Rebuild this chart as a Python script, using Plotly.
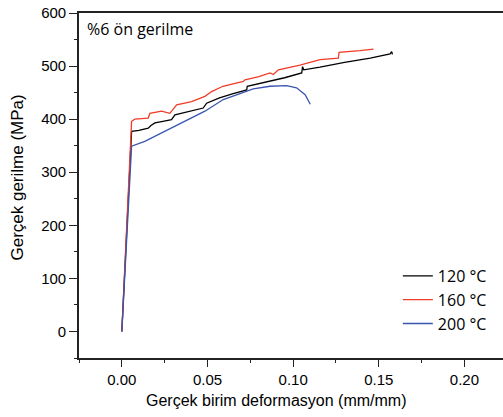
import plotly.graph_objects as go

# 120 °C
x120 = [0.0, 0.001, 0.0025, 0.004, 0.0052, 0.0057, 0.010, 0.0154, 0.017, 0.0193, 0.024, 0.029, 0.031, 0.038,
        0.0475, 0.0495, 0.057, 0.065, 0.0729, 0.0732, 0.085, 0.095, 0.105, 0.1055, 0.1062, 0.1157, 0.130,
        0.145, 0.1566, 0.1575, 0.158]
y120 = [0, 65, 170, 275, 345, 377, 379, 383, 388, 393, 396, 399, 408, 413,
        421, 430, 440, 448, 455, 462, 470, 478, 487, 499, 493, 498, 507,
        515, 523, 527, 522]

# 160 °C
x160 = [0.0, 0.001, 0.0025, 0.004, 0.0052, 0.0057, 0.0076, 0.0154, 0.0164, 0.0232, 0.028, 0.032, 0.0407,
        0.0485, 0.0524, 0.059, 0.0709, 0.0719, 0.080, 0.0865, 0.0884, 0.0914, 0.104, 0.1157, 0.1264,
        0.1268, 0.139, 0.1469]
y160 = [0, 68, 175, 280, 355, 396, 400, 402, 411, 415, 411, 427, 433,
        443, 452, 462, 471, 474, 480, 487, 484, 493, 502, 512, 515,
        526, 529, 532]

# 200 °C
x200 = [0.0, 0.001, 0.0025, 0.004, 0.0052, 0.0057, 0.0134, 0.0251, 0.0388, 0.0485, 0.0592, 0.0767,
        0.0865, 0.0962, 0.102, 0.107, 0.110]
y200 = [0, 62, 168, 270, 330, 349, 358, 377, 399, 415, 437, 457,
        462, 463, 459, 446, 428]

series = [("120 °C", x120, y120, "black"),
          ("160 °C", x160, y160, "#f03c28"),
          ("200 °C", x200, y200, "#3a55b0")]

fig = go.Figure()
for name, xs, ys, col in series:
    fig.add_trace(go.Scatter(x=xs, y=ys, mode="lines", name=name,
                             line=dict(color=col, width=1.3)))

fig.add_annotation(x=0, y=1, xref="paper", yref="paper", xanchor="left", yanchor="middle",
                   xshift=6, yshift=-16, text="%6 ön gerilme", showarrow=False,
                   font=dict(family="Open Sans", size=16, color="black"))

title_font = dict(family="Liberation Sans", size=16, color="black")
fig.add_annotation(x=-0.1439, y=0.523, xref="paper", yref="paper", xanchor="center", yanchor="middle",
                   text="Gerçek gerilme (MPa)", textangle=-90, showarrow=False,
                   font=dict(family="Liberation Sans", size=17, color="black"))
fig.add_annotation(x=0.4646, y=-0.1246, xref="paper", yref="paper", xanchor="center", yanchor="middle",
                   text="Gerçek birim deformasyon (mm/mm)", showarrow=False, font=title_font)

axis_font = dict(family="Liberation Sans", size=15, color="black")
fig.update_layout(
    width=503, height=417,
    margin=dict(l=79, r=0, t=13, b=59),
    paper_bgcolor="white", plot_bgcolor="white",
    showlegend=True,
    legend=dict(x=0.752, y=0.287, xanchor="left", yanchor="top",
                bgcolor="rgba(0,0,0,0)", font=dict(family="Open Sans", size=16, color="black"),
                tracegroupgap=0, itemwidth=30),
    xaxis=dict(range=[-0.025, 0.2225], tickvals=[0, 0.05, 0.1, 0.15, 0.2],
               ticktext=["0.00", "0.05", "0.10", "0.15", "0.20"],
               ticks="outside", ticklen=7, tickwidth=1.3, tickcolor="#222",
               minor=dict(tickvals=[-0.025, 0.025, 0.075, 0.125, 0.175], ticks="outside",
                          ticklen=3, tickwidth=1.3, tickcolor="#222"),
               showline=True, linecolor="#222", linewidth=1.6, mirror=True,
               showgrid=False, zeroline=False, tickfont=axis_font),
    yaxis=dict(range=[-50, 600], tickvals=[0, 100, 200, 300, 400, 500, 600],
               ticks="outside", ticklen=8, tickwidth=1.3, tickcolor="#222",
               minor=dict(tickvals=[-50, 50, 150, 250, 350, 450, 550], ticks="outside",
                          ticklen=3, tickwidth=1.3, tickcolor="#222"),
               showline=True, linecolor="#222", linewidth=1.6, mirror=False,
               showgrid=False, zeroline=False, tickfont=axis_font),
)

fig.write_html("out.html")
